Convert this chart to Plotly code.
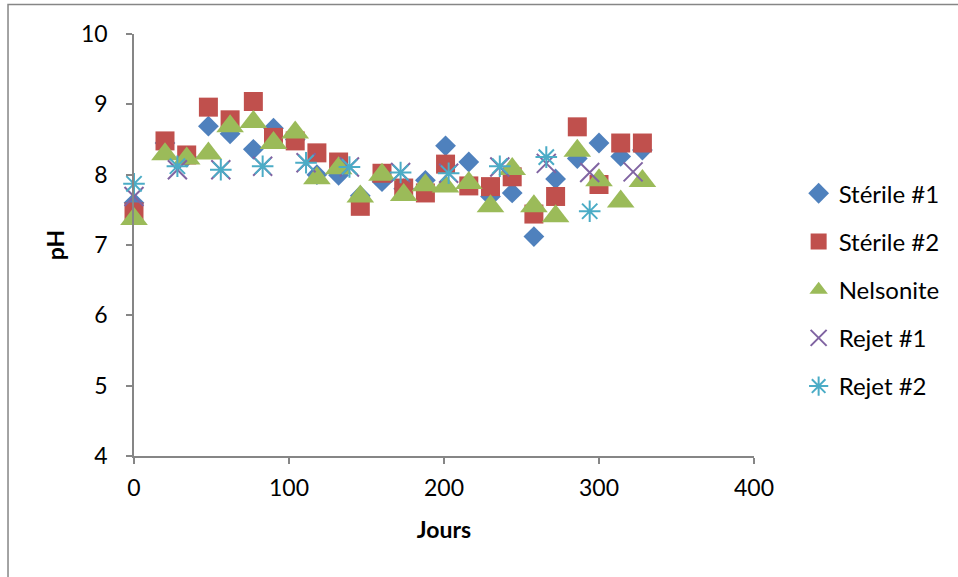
import plotly.graph_objects as go

# Sampling days and pH readings per material
jours_sterile = [0, 20, 34, 48, 62, 77, 90, 104, 118, 132, 146, 160, 174, 188, 201, 216, 230, 244, 258, 272, 286, 300, 314, 328]
ph_sterile1 = [7.60, 8.45, 8.25, 8.69, 8.58, 8.36, 8.66, 8.50, 8.00, 7.99, 7.70, 7.90, 7.80, 7.92, 8.41, 8.18, 7.69, 7.74, 7.12, 7.94, 8.23, 8.45, 8.26, 8.35]
ph_sterile2 = [7.47, 8.48, 8.28, 8.96, 8.78, 9.04, 8.53, 8.48, 8.31, 8.18, 7.55, 8.02, 7.81, 7.74, 8.15, 7.84, 7.83, 7.97, 7.44, 7.69, 8.68, 7.86, 8.45, 8.45]
ph_nelsonite = [7.37, 8.29, 8.23, 8.30, 8.69, 8.75, 8.45, 8.60, 7.95, 8.09, 7.69, 8.00, 7.71, 7.85, 7.83, 7.88, 7.55, 8.08, 7.55, 7.41, 8.34, 7.92, 7.62, 7.91]

jours_rejet1 = [0, 28, 56, 83, 111, 139, 172, 203, 236, 266, 294, 322]
ph_rejet1 = [7.69, 8.07, 8.07, 8.12, 8.17, 8.11, 8.03, 8.02, 8.11, 8.16, 8.03, 8.04]

jours_rejet2 = [0, 28, 56, 83, 111, 139, 172, 203, 236, 266, 294]
ph_rejet2 = [7.87, 8.12, 8.07, 8.12, 8.17, 8.11, 8.03, 8.02, 8.12, 8.25, 7.48]

x_ticks = [0, 100, 200, 300, 400]
y_ticks = [4, 5, 6, 7, 8, 9, 10]

FONT = "Lato"
AXIS_GREY = "#868686"
TXT = 23

fig = go.Figure()

fig.add_trace(go.Scatter(
    x=jours_sterile, y=ph_sterile1, mode="markers", name="Stérile #1",
    legendgroup="s1", cliponaxis=False,
    marker=dict(symbol="diamond", size=16, color="#4F81BD"),
))
fig.add_trace(go.Scatter(
    x=jours_sterile, y=ph_sterile2, mode="markers", name="Stérile #2",
    legendgroup="s2", cliponaxis=False,
    marker=dict(symbol="square", size=19, color="#C0504D"),
))
fig.add_trace(go.Scatter(
    x=jours_sterile, y=ph_nelsonite, mode="markers", name="Nelsonite",
    legendgroup="n", cliponaxis=False,
    marker=dict(symbol="triangle-up", size=24, color="#9BBB59"),
))
fig.add_trace(go.Scatter(
    x=jours_rejet1, y=ph_rejet1, mode="markers", name="Rejet #1",
    legendgroup="r1", cliponaxis=False,
    marker=dict(symbol="x-thin-open", size=19, color="#8064A2",
                line=dict(color="#8064A2", width=2)),
))
fig.add_trace(go.Scatter(
    x=jours_rejet2, y=ph_rejet2, mode="markers", name="Rejet #2",
    legendgroup="r2", cliponaxis=False,
    marker=dict(symbol="asterisk-open", size=18, color="#4BACC6",
                line=dict(color="#4BACC6", width=2)),
))

axis_common = dict(
    showgrid=False, zeroline=False, showline=True, linecolor=AXIS_GREY,
    linewidth=1.5, ticks="outside", ticklen=6, tickcolor=AXIS_GREY,
    tickwidth=1.5, tickfont=dict(family=FONT, size=TXT, color="#000000"),
)

fig.update_xaxes(
    range=[0, 400], tickvals=x_ticks, ticklabelstandoff=5,
    title=dict(text="<b>Jours</b>", font=dict(family=FONT, size=TXT, color="#000000"), standoff=22),
    **axis_common,
)
fig.update_yaxes(
    range=[4, 10], tickvals=y_ticks, ticklabelstandoff=14,
    title=dict(text="<b>pH</b>", font=dict(family=FONT, size=TXT, color="#000000"), standoff=10),
    **axis_common,
)

fig.update_layout(
    width=958, height=577,
    margin=dict(l=134, r=204, t=34, b=121),
    paper_bgcolor="white", plot_bgcolor="white",
    font=dict(family=FONT, size=TXT, color="#000000"),
    showlegend=True,
    legend=dict(
        x=1.072, y=0.675, xanchor="left", yanchor="top",
        font=dict(family=FONT, size=24, color="#000000"),
        tracegroupgap=14, itemwidth=30, bgcolor="rgba(0,0,0,0)",
    ),
    shapes=[dict(
        type="rect", xref="paper", yref="paper",
        x0=-0.2032, x1=1.34, y0=-0.30, y1=1.07,
        line=dict(color=AXIS_GREY, width=1.5), fillcolor="rgba(0,0,0,0)",
        layer="below",
    )],
)

fig.write_html("out.html")
